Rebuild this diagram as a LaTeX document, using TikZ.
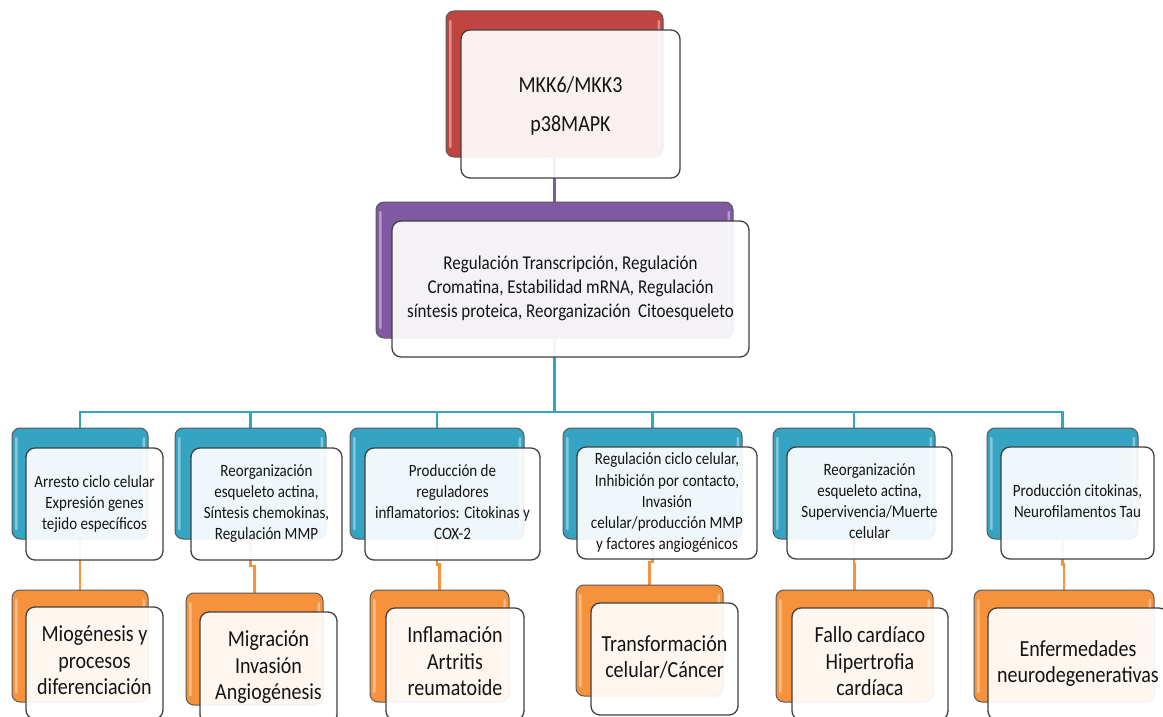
\documentclass[tikz,border=0pt]{standalone}
\usepackage{fontspec}
\usepackage{graphicx}
\setmainfont{Carlito}
\usetikzlibrary{calc}
\pgfdeclarelayer{bg}
\pgfsetlayers{bg,main}
\definecolor{cred}{HTML}{C0443F}
\definecolor{cpurple}{HTML}{7F5AA2}
\definecolor{cblue}{HTML}{35A3C2}
\definecolor{corange}{HTML}{F7923C}
\definecolor{ctext}{HTML}{141414}
\newcommand{\stx}[1]{\scalebox{1}[1.15]{\begin{tabular}{@{}c@{}}#1\end{tabular}}}
\tikzset{
  gloss/.style={path picture={
    \fill[draw=none,white,opacity=0.4,rounded corners=1pt] ([xshift=3pt,yshift=-9pt]path picture bounding box.north west) rectangle ([xshift=5.5pt,yshift=9pt]path picture bounding box.south west);
    \fill[draw=none,white,opacity=0.4,rounded corners=1pt] ([xshift=-3pt,yshift=-9pt]path picture bounding box.north east) rectangle ([xshift=-5.5pt,yshift=9pt]path picture bounding box.south east);}},
  backbox/.style={rounded corners=8pt, draw=black!65, line width=1pt, inner sep=0pt, fill=#1, gloss},
  frontbox/.style={rounded corners=9pt, draw=black!75, line width=1.3pt, fill=white, fill opacity=0.92, text opacity=1, align=center, text=ctext, inner sep=0pt},
  midtext/.style={font=\fontsize{15}{18.4}\selectfont},
  bigtext/.style={font=\fontsize{20}{23}\selectfont},
  conn/.style={line width=2.4pt, draw=#1},
}
\begin{document}
\begin{tikzpicture}[x=1pt,y=-1pt]
\useasboundingbox (0,0) rectangle (1163,717);
% top
\node[backbox=cred, minimum width=217pt, minimum height=146pt] (t) at (554.5,84) {};
\node[frontbox, minimum width=219pt, minimum height=148pt, font=\fontsize{20}{34.5}\selectfont] (tf) at (570.5,104) {\stx{MKK6/MKK3\\p38MAPK}};
% purple
\node[backbox=cpurple, minimum width=357pt, minimum height=136pt] (p) at (554.5,270) {};
\node[frontbox, minimum width=357pt, minimum height=136pt, font=\fontsize{17}{20.8}\selectfont] (pf) at (570.5,289) {\stx{Regulación Transcripción, Regulación\\Cromatina, Estabilidad mRNA, Regulación\\síntesis proteica, Reorganización~ Citoesqueleto}};
% row 2
\node[backbox=cblue, minimum width=136pt, minimum height=111pt] (b1) at (80,483.5) {};
\node[frontbox, midtext, minimum width=137pt, minimum height=112pt] (f1) at (94.5,504) {\stx{Arresto ciclo celular\\Expresión genes\\tejido específicos}};
\node[backbox=cblue, minimum width=151pt, minimum height=111pt] (b2) at (250.5,483.5) {};
\node[frontbox, midtext, minimum width=151pt, minimum height=112pt] (f2) at (266.5,504) {\stx{Reorganización\\esqueleto actina,\\Síntesis chemokinas,\\Regulación MMP}};
\node[backbox=cblue, minimum width=174pt, minimum height=111pt] (b3) at (437,483.5) {};
\node[frontbox, midtext, minimum width=175pt, minimum height=112pt] (f3) at (452.5,504) {\stx{Producción de\\reguladores\\inflamatorios: Citokinas y\\COX-2}};
\node[backbox=cblue, minimum width=179pt, minimum height=111pt] (b4) at (652.5,483.5) {};
\node[frontbox, midtext, minimum width=180pt, minimum height=112pt] (f4) at (667,503) {\stx{Regulación ciclo celular,\\Inhibición por contacto,\\Invasión\\celular/producción MMP\\y factores angiogénicos}};
\node[backbox=cblue, minimum width=162pt, minimum height=111pt] (b5) at (854,483.5) {};
\node[frontbox, midtext, minimum width=165pt, minimum height=112pt] (f5) at (869.5,503) {\stx{Reorganización\\esqueleto actina,\\Supervivencia/Muerte\\celular}};
\node[backbox=cblue, minimum width=151pt, minimum height=111pt] (b6) at (1062.5,483.5) {};
\node[frontbox, midtext, minimum width=153pt, minimum height=112pt] (f6) at (1077.5,503) {\stx{Producción citokinas,\\Neurofilamentos Tau}};
% row 3
\node[backbox=corange, minimum width=136pt, minimum height=112pt] (o1) at (80,646) {};
\node[frontbox, bigtext, minimum width=137pt, minimum height=112pt] (g1) at (94.5,663) {\stx{Miogénesis y\\procesos\\diferenciación}};
\node[backbox=corange, minimum width=137pt, minimum height=112pt] (o2) at (254.5,649) {};
\node[frontbox, bigtext, minimum width=137pt, minimum height=112pt] (g2) at (268.5,668) {\stx{Migración\\Invasión\\Angiogénesis}};
\node[backbox=corange, minimum width=139pt, minimum height=112pt] (o3) at (439.5,646) {};
\node[frontbox, bigtext, minimum width=138pt, minimum height=112pt] (g3) at (455,664) {\stx{Inflamación\\Artritis\\reumatoide}};
\node[backbox=corange, minimum width=147pt, minimum height=111pt] (o4) at (649.5,640.5) {};
\node[frontbox, bigtext, minimum width=147pt, minimum height=112pt] (g4) at (664.5,659) {\stx{Transformación\\celular/Cáncer}};
\node[backbox=corange, minimum width=157pt, minimum height=112pt] (o5) at (854.5,646) {};
\node[frontbox, bigtext, minimum width=156pt, minimum height=112pt] (g5) at (870,664) {\stx{Fallo cardíaco\\Hipertrofia\\cardíaca}};
\node[backbox=corange, minimum width=180pt, minimum height=112pt] (o6) at (1064,646) {};
\node[frontbox, bigtext, minimum width=180pt, minimum height=112pt] (g6) at (1078,664) {\stx{Enfermedades\\neurodegenerativas}};
% connectors
\coordinate (bar) at (554.5,412);
\begin{pgfonlayer}{bg}
\draw[conn=cpurple] (t.south) -- (p.north);
\draw[conn=cblue] (p.south) -- (bar);
\foreach \i in {1,...,6}{
  \draw[conn=cblue] (bar) -| (b\i.north);
  \draw[conn=corange] (b\i.south) |- ($(b\i.south)!.5!(o\i.north)$) -| (o\i.north);
}
\end{pgfonlayer}
\end{tikzpicture}
\end{document}
